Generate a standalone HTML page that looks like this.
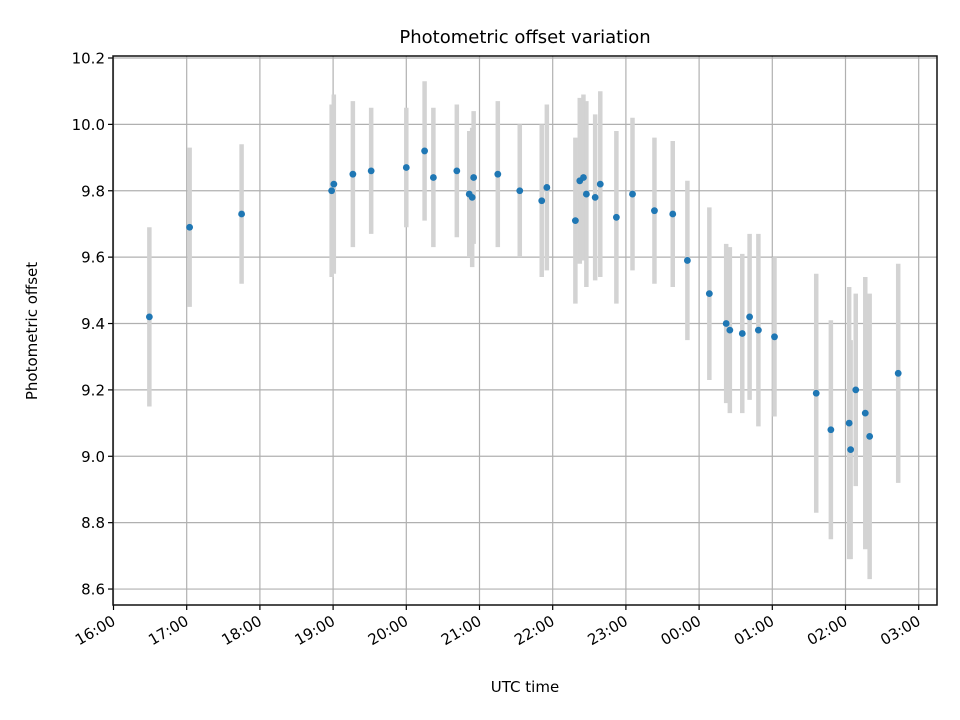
<!DOCTYPE html>
<html><head><meta charset="utf-8"><style>
body{margin:0;background:#fff}
svg{display:block;font-family:"DejaVu Sans","Liberation Sans",sans-serif}
</style></head><body>
<svg id="chart" width="960" height="720" viewBox="0 0 960 720">
<text x="525" y="43" font-size="18" text-anchor="middle" fill="#000">Photometric offset variation</text>
<text x="525" y="692" font-size="15" text-anchor="middle">UTC time</text>
<text transform="translate(37,331) rotate(-90)" font-size="15" text-anchor="middle">Photometric offset</text>
<g id="grid"></g><g id="bars"></g><g id="pts"></g><g id="axes"></g>
</svg>
<script>
// hours since 16:00 UTC
const times=[0.49,1.04,1.75,2.98,3.01,3.27,3.52,4.00,4.25,4.37,4.69,4.86,4.90,4.92,5.25,5.55,5.85,5.92,6.31,6.37,6.42,6.46,6.58,6.65,6.87,7.09,7.39,7.64,7.84,8.14,8.37,8.42,8.59,8.69,8.81,9.03,9.60,9.80,10.05,10.07,10.14,10.27,10.33,10.72];
const offsets=[9.42,9.69,9.73,9.80,9.82,9.85,9.86,9.87,9.92,9.84,9.86,9.79,9.78,9.84,9.85,9.80,9.77,9.81,9.71,9.83,9.84,9.79,9.78,9.82,9.72,9.79,9.74,9.73,9.59,9.49,9.40,9.38,9.37,9.42,9.38,9.36,9.19,9.08,9.10,9.02,9.20,9.13,9.06,9.25];
const errors=[0.27,0.24,0.21,0.26,0.27,0.22,0.19,0.18,0.21,0.21,0.20,0.19,0.21,0.20,0.22,0.20,0.23,0.25,0.25,0.25,0.25,0.28,0.25,0.28,0.26,0.23,0.22,0.22,0.24,0.26,0.24,0.25,0.24,0.25,0.29,0.24,0.36,0.33,0.41,0.33,0.29,0.41,0.43,0.33];
const yTicks=[8.6,8.8,9.0,9.2,9.4,9.6,9.8,10.0,10.2];
const xTickLabels=["16:00","17:00","18:00","19:00","20:00","21:00","22:00","23:00","00:00","01:00","02:00","03:00"];

const L=113,R=937,T=56,B=605;
const xs=h=>113.5+h*73.2;
const ys=v=>58+(10.2-v)*331.9;
const NS="http://www.w3.org/2000/svg";
function mk(tag,attrs,parent){const e=document.createElementNS(NS,tag);for(const k in attrs)e.setAttribute(k,attrs[k]);document.getElementById(parent).appendChild(e);return e;}

yTicks.forEach(v=>{
  const y=ys(v);
  const g=mk('line',{x1:L,x2:R,y1:y,y2:y,stroke:'#b0b0b0','stroke-width':1.2},'grid');
  
  
  const t=mk('line',{x1:L-5,x2:L,y1:y,y2:y,stroke:'#000','stroke-width':1.2},'axes');
  
  
  const tx=mk('text',{x:L-8,y:y+5.5,'font-size':15,'text-anchor':'end'},'axes');
  tx.textContent=v.toFixed(1);
  
  
});
xTickLabels.forEach((lab,i)=>{
  const x=xs(i);
  const g=mk('line',{x1:x,x2:x,y1:T,y2:B,stroke:'#b0b0b0','stroke-width':1.2},'grid');
  
  
  const t=mk('line',{x1:x,x2:x,y1:B,y2:B+5,stroke:'#000','stroke-width':1.2},'axes');
  
  
  const tx=mk('text',{transform:`translate(${x+3},${B+19}) rotate(-30)`,'font-size':15,'text-anchor':'end'},'axes');
  tx.textContent=lab;
  
  
});
times.forEach((h,i)=>{
  const x=xs(h);
  const b=mk('line',{x1:x,x2:x,y1:ys(offsets[i]+errors[i]),y2:ys(offsets[i]-errors[i]),stroke:'#d3d3d3','stroke-width':4.5},'bars');
  
  
});
times.forEach((h,i)=>{
  const c=mk('circle',{cx:xs(h),cy:ys(offsets[i]),r:3.4,fill:'#1f77b4'},'pts');
  
  
});
const fr=mk('rect',{x:L,y:T,width:R-L,height:B-T,fill:'none',stroke:'#111','stroke-width':1.5},'axes');


</script>
</body></html>
